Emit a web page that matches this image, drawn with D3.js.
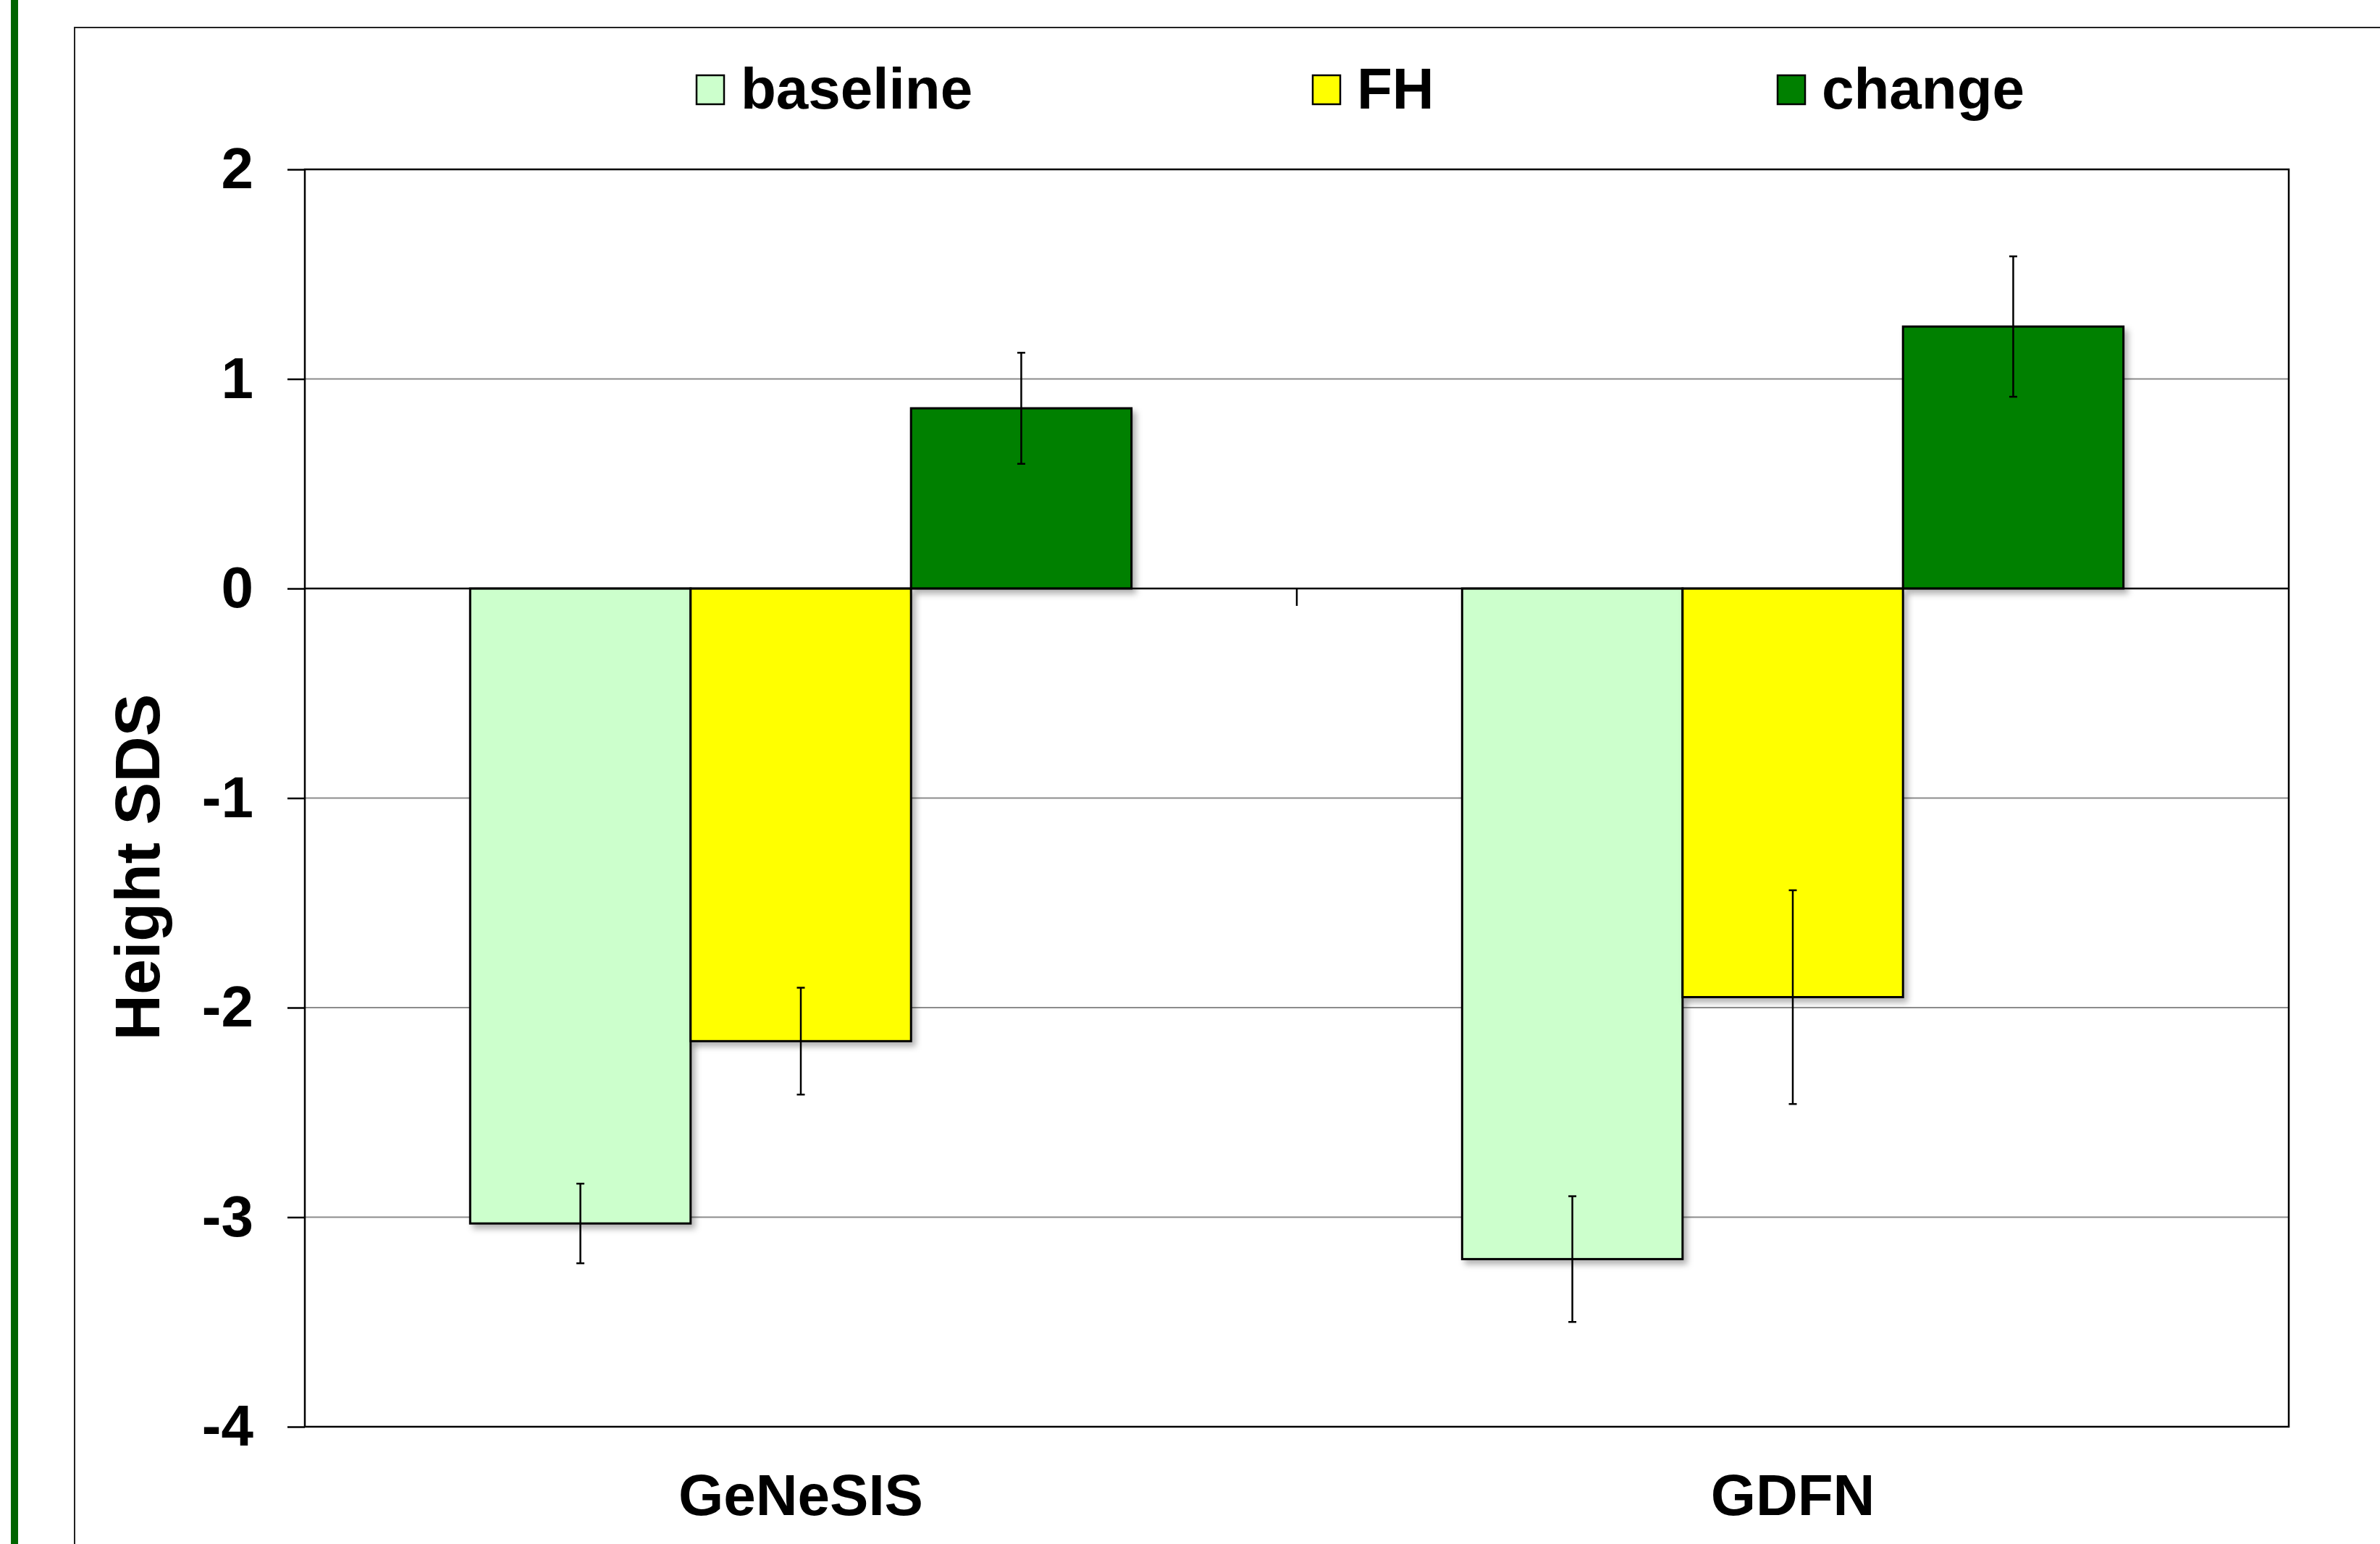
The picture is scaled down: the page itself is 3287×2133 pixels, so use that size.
<!doctype html>
<html lang="en">
<head>
<meta charset="utf-8">
<script src="https://d3js.org/d3.v7.min.js"></script>
<style>
  body { margin: 0; background: #fff; }
  text { font-family: "Liberation Sans", Arial, sans-serif; font-weight: bold; fill: #000; }
  .grid line { stroke: #8c8c8c; stroke-width: 2; }
  .bar { stroke: #000; stroke-width: 3; }
  .err { stroke: #000; stroke-width: 2.5; }
</style>
</head>
<body>
<div id="chart"></div>
<script>
  // data
  let categories = ["GeNeSIS", "GDFN"];
  let seriesNames = ["baseline", "FH", "change"];
  let seriesColors = ["#CCFFCC", "#FFFF00", "#008000"];
  let baseline = [-3.03, -3.20];
  let baselineErr = [0.19, 0.30];
  let fh = [-2.16, -1.95];
  let fhErr = [0.255, 0.51];
  let change = [0.86, 1.25];
  let changeErr = [0.265, 0.335];
  let yTicks = [-4, -3, -2, -1, 0, 1, 2];

  let W = 3287, H = 2133;
  let margin = {top: 234, right: 126, bottom: 162, left: 421};
  let width = W - margin.left - margin.right,
      height = H - margin.top - margin.bottom;

  let svg = d3.select("#chart").append("svg")
      .attr("width", W).attr("height", H);

  let defs = svg.append("defs");
  let f = defs.append("filter").attr("id", "shadow")
      .attr("x", "-10%").attr("y", "-10%").attr("width", "130%").attr("height", "130%");
  f.append("feDropShadow").attr("dx", 5).attr("dy", 6).attr("stdDeviation", 4)
      .attr("flood-color", "#000").attr("flood-opacity", 0.3);

  svg.append("rect").attr("width", W).attr("height", H).attr("fill", "#fff");

  // green bar on the left edge + outer frame
  svg.append("rect").attr("x", 15).attr("y", 0).attr("width", 10).attr("height", H).attr("fill", "#006400");
  svg.append("rect").attr("x", 103).attr("y", 38).attr("width", W).attr("height", H)
      .attr("fill", "none").attr("stroke", "#222").attr("stroke-width", 2);

  let g = svg.append("g").attr("transform", "translate(" + margin.left + "," + margin.top + ")");

  let x0 = d3.scaleBand().domain(categories).range([0, width]).padding(0);
  let barW = x0.bandwidth() / 4.5;
  let x1 = d3.scaleBand().domain(seriesNames)
      .range([x0.bandwidth() / 2 - 1.5 * barW, x0.bandwidth() / 2 + 1.5 * barW]).padding(0);
  let y = d3.scaleLinear().domain([-4, 2]).range([height, 0]);

  // gridlines
  g.append("g").attr("class", "grid")
    .selectAll("line").data(yTicks.filter(d => d !== 0 && d !== 2 && d !== -4))
    .enter().append("line")
    .attr("x1", 0).attr("x2", width)
    .attr("y1", d => y(d)).attr("y2", d => y(d));

  let rows = categories.map((c, i) => ({
    cat: c,
    vals: [
      {s: "baseline", v: baseline[i], e: baselineErr[i], c: seriesColors[0]},
      {s: "FH", v: fh[i], e: fhErr[i], c: seriesColors[1]},
      {s: "change", v: change[i], e: changeErr[i], c: seriesColors[2]}
    ]
  }));

  let groups = g.selectAll(".cat").data(rows).enter().append("g")
      .attr("class", "cat")
      .attr("transform", d => "translate(" + x0(d.cat) + ",0)");

  groups.selectAll("rect").data(d => d.vals).enter().append("rect")
      .attr("class", "bar")
      .attr("x", d => x1(d.s))
      .attr("width", x1.bandwidth())
      .attr("y", d => y(Math.max(0, d.v)))
      .attr("height", d => Math.abs(y(d.v) - y(0)))
      .attr("fill", d => d.c)
      .attr("filter", "url(#shadow)");

  // error bars
  let eb = groups.selectAll(".eb").data(d => d.vals).enter().append("g").attr("class", "eb");
  eb.append("line").attr("class", "err")
      .attr("x1", d => x1(d.s) + x1.bandwidth() / 2).attr("x2", d => x1(d.s) + x1.bandwidth() / 2)
      .attr("y1", d => y(d.v + d.e)).attr("y2", d => y(d.v - d.e));
  [1, -1].forEach(sign => {
    eb.append("line").attr("class", "err")
      .attr("x1", d => x1(d.s) + x1.bandwidth() / 2 - 5.5).attr("x2", d => x1(d.s) + x1.bandwidth() / 2 + 5.5)
      .attr("y1", d => y(d.v + sign * d.e)).attr("y2", d => y(d.v + sign * d.e));
  });

  // plot border
  g.append("rect").attr("width", width).attr("height", height)
      .attr("fill", "none").attr("stroke", "#000").attr("stroke-width", 2.5);

  // zero line with category ticks
  g.append("line").attr("x1", 0).attr("x2", width).attr("y1", y(0)).attr("y2", y(0))
      .attr("stroke", "#000").attr("stroke-width", 2.5);
  g.selectAll(".ctick").data(categories.slice(1)).enter().append("line")
      .attr("x1", d => x0(d)).attr("x2", d => x0(d))
      .attr("y1", y(0)).attr("y2", y(0) + 24)
      .attr("stroke", "#000").attr("stroke-width", 2.5);

  // y axis
  let yAxis = g.append("g")
      .call(d3.axisLeft(y).tickValues(yTicks).tickSize(24).tickPadding(47).tickFormat(d => String(d)));
  yAxis.select(".domain").remove();
  yAxis.selectAll(".tick line").attr("stroke", "#000").attr("stroke-width", 2.5);
  yAxis.selectAll(".tick text").style("font-size", "80px").attr("fill", "#000");

  // category labels
  g.selectAll(".clabel").data(categories).enter().append("text")
      .attr("x", d => x0(d) + x0.bandwidth() / 2)
      .attr("y", height + 122)
      .attr("text-anchor", "middle")
      .style("font-size", "80px")
      .text(d => d);

  // y title
  svg.append("text")
      .attr("transform", "translate(220,1198) rotate(-90)")
      .attr("text-anchor", "middle")
      .style("font-size", "88px")
      .text("Height SDS");

  // legend
  let legX = [962, 1813, 2455];
  let leg = svg.selectAll(".leg").data(seriesNames).enter().append("g")
      .attr("transform", (d, i) => "translate(" + legX[i] + ",104)");
  leg.append("rect").attr("width", 38).attr("height", 40)
      .attr("fill", (d, i) => seriesColors[i]).attr("stroke", "#000").attr("stroke-width", 2.5);
  leg.append("text").attr("x", 61).attr("y", 46).style("font-size", "80px").text(d => d);
</script>
</body>
</html>
